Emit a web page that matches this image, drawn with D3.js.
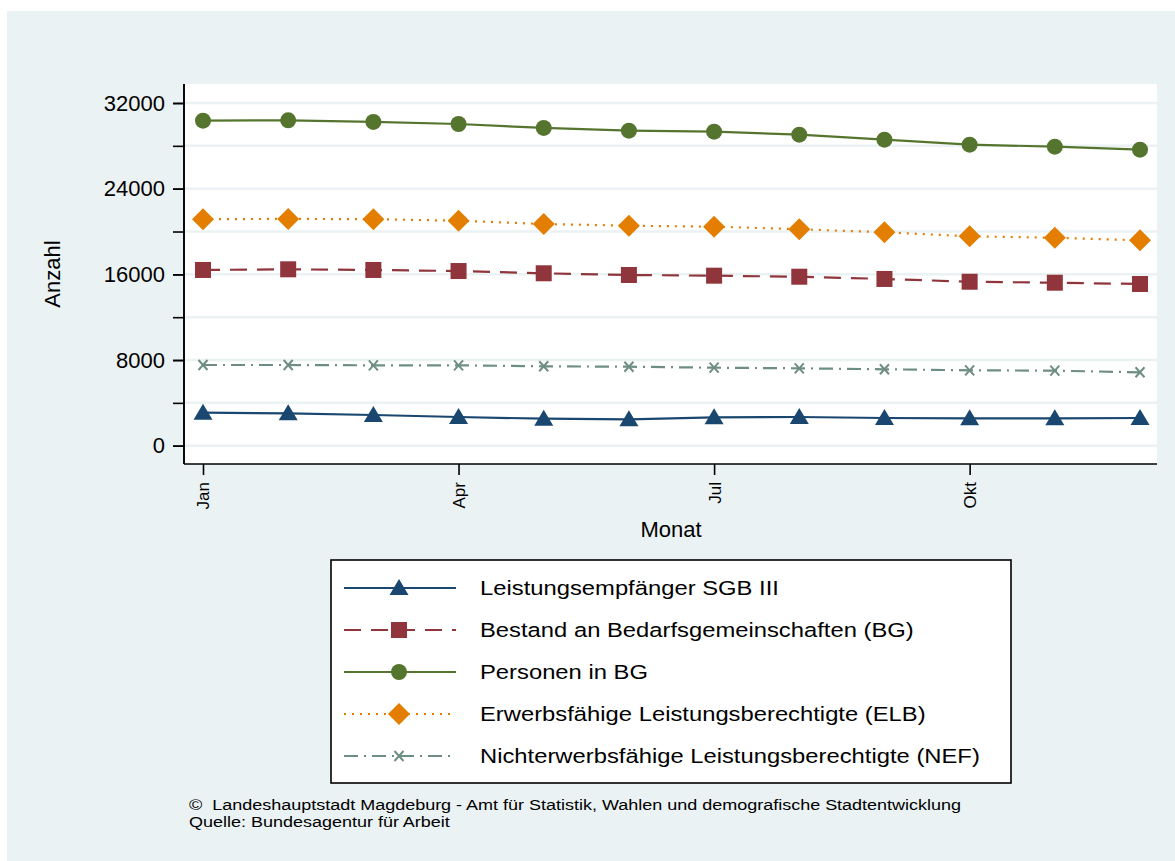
<!DOCTYPE html>
<html>
<head>
<meta charset="utf-8">
<script src="https://cdn.jsdelivr.net/npm/d3@7"></script>
<style>
body { margin: 0; background: #fff; }
text { font-family: "Liberation Sans", Arial, Helvetica, sans-serif; }
</style>
</head>
<body>
<svg id="chart" width="1175" height="861"></svg>
<script>
var months = [1, 2, 3, 4, 5, 6, 7, 8, 9, 10, 11, 12];
var tickMonths = [1, 4, 7, 10];
var tickMonthLabels = ['Jan', 'Apr', 'Jul', 'Okt'];
var yTicks = [0, 8000, 16000, 24000, 32000];
var yMinorTicks = [0, 4000, 8000, 12000, 16000, 20000, 24000, 28000, 32000];

var sgb3 = [3080, 3025, 2865, 2680, 2520, 2465, 2650, 2680, 2585, 2560, 2560, 2585];
var bg = [16410, 16470, 16410, 16310, 16100, 15940, 15875, 15780, 15570, 15310, 15220, 15100];
var personenBg = [30350, 30385, 30230, 30040, 29670, 29415, 29320, 29040, 28575, 28110, 27920, 27640];
var elb = [21150, 21180, 21150, 21010, 20700, 20540, 20450, 20210, 19930, 19550, 19420, 19180];
var nef = [7535, 7535, 7505, 7505, 7415, 7375, 7285, 7225, 7135, 7040, 7005, 6855];

var seriesNames = [
    'Leistungsempfänger SGB III',
    'Bestand an Bedarfsgemeinschaften (BG)',
    'Personen in BG',
    'Erwerbsfähige Leistungsberechtigte (ELB)',
    'Nichterwerbsfähige Leistungsberechtigte (NEF)'
];

var footerLines = [
    '©\u00a0\u00a0Landeshauptstadt Magdeburg - Amt für Statistik, Wahlen und demografische Stadtentwicklung',
    'Quelle: Bundesagentur für Arbeit'
];

var series = [
    { name: seriesNames[0], values: sgb3, color: '#1a476f', dash: null, marker: 'triangle' },
    { name: seriesNames[1], values: bg, color: '#90353b', dash: '17,10', marker: 'square' },
    { name: seriesNames[2], values: personenBg, color: '#55752f', dash: null, marker: 'circle' },
    { name: seriesNames[3], values: elb, color: '#e37e00', dash: '2,6', marker: 'diamond' },
    { name: seriesNames[4], values: nef, color: '#6e8e84', dash: '14,6,2,6', marker: 'cross' }
];

var bgColor = '#eaf2f3';
var svg = d3.select('#chart');

// graph region
svg.append('rect')
    .attr('x', 7).attr('y', 11)
    .attr('width', 1168).attr('height', 850)
    .attr('fill', bgColor);

var plotL = 184, plotR = 1157, plotT = 84, plotB = 464;

svg.append('rect')
    .attr('x', plotL).attr('y', plotT)
    .attr('width', plotR - plotL).attr('height', plotB - plotT)
    .attr('fill', '#fff');

var x = d3.scaleLinear().domain([1, 12]).range([203, 1140]);
var y = d3.scaleLinear().domain([0, 32000]).range([445.7, 103]);

// grid lines
svg.append('g')
    .selectAll('line')
    .data(yMinorTicks)
    .enter()
    .append('line')
    .attr('x1', plotL).attr('x2', plotR)
    .attr('y1', function (d) { return y(d); })
    .attr('y2', function (d) { return y(d); })
    .attr('stroke', bgColor)
    .attr('stroke-width', 2.5);

// y axis
var yAxisMinor = svg.append('g')
    .attr('transform', 'translate(' + plotL + ',0)')
    .call(d3.axisLeft(y).tickValues(yMinorTicks).tickSize(11).tickFormat(''));

var yAxis = svg.append('g')
    .attr('transform', 'translate(' + plotL + ',0)')
    .call(d3.axisLeft(y).tickValues(yTicks).tickSize(11).tickPadding(8).tickFormat(d3.format('d')));

[yAxisMinor, yAxis].forEach(function (g) {
    g.select('.domain').attr('d', 'M0,' + plotT + 'V' + plotB).attr('stroke', '#000').attr('stroke-width', 1.6);
    g.selectAll('.tick line').attr('stroke', '#000').attr('stroke-width', 1.6);
});
yAxis.selectAll('.tick text')
    .attr('font-size', 22)
    .attr('fill', '#000')
    .style('font-family', '"Liberation Sans", Arial, sans-serif');

// x axis
var xAxis = svg.append('g')
    .attr('transform', 'translate(0,' + plotB + ')')
    .call(d3.axisBottom(x).tickValues(tickMonths).tickSize(11)
        .tickFormat(function (d, i) { return tickMonthLabels[i]; }));

xAxis.select('.domain').attr('d', 'M' + plotL + ',0H' + plotR).attr('stroke', '#000').attr('stroke-width', 1.6);
xAxis.selectAll('.tick line').attr('stroke', '#000').attr('stroke-width', 1.6);
xAxis.selectAll('.tick text')
    .attr('font-size', 17)
    .attr('fill', '#000')
    .attr('transform', 'rotate(-90)')
    .attr('text-anchor', 'end')
    .attr('x', -18)
    .attr('y', 0)
    .attr('dy', '0.35em')
    .style('font-family', '"Liberation Sans", Arial, sans-serif');

// axis titles
svg.append('text')
    .attr('x', 671).attr('y', 537)
    .attr('text-anchor', 'middle')
    .attr('font-size', 22)
    .text('Monat');

svg.append('text')
    .attr('transform', 'translate(60,274) rotate(-90)')
    .attr('text-anchor', 'middle')
    .attr('font-size', 22)
    .text('Anzahl');

function drawMarker(g, type, color, cx, cy) {
    if (type === 'circle') {
        g.append('circle').attr('cx', cx).attr('cy', cy).attr('r', 8).attr('fill', color);
    } else if (type === 'square') {
        g.append('rect').attr('x', cx - 8).attr('y', cy - 8).attr('width', 16).attr('height', 16).attr('fill', color);
    } else if (type === 'diamond') {
        g.append('path').attr('d', 'M' + cx + ',' + (cy - 11) + 'L' + (cx + 11) + ',' + cy + 'L' + cx + ',' + (cy + 11) + 'L' + (cx - 11) + ',' + cy + 'Z').attr('fill', color);
    } else if (type === 'triangle') {
        g.append('path').attr('d', 'M' + cx + ',' + (cy - 9) + 'L' + (cx + 9.5) + ',' + (cy + 7) + 'L' + (cx - 9.5) + ',' + (cy + 7) + 'Z').attr('fill', color);
    } else if (type === 'cross') {
        g.append('path').attr('d', 'M' + (cx - 4.5) + ',' + (cy - 5) + 'L' + (cx + 4.5) + ',' + (cy + 5) + 'M' + (cx + 4.5) + ',' + (cy - 5) + 'L' + (cx - 4.5) + ',' + (cy + 5))
            .attr('stroke', color).attr('stroke-width', 2).attr('fill', 'none');
    }
}

// text drawn a bit wider than the font, like the stata export
function wideText(g, tx, ty, size, sx, str) {
    return g.append('text')
        .attr('transform', 'translate(' + tx + ',' + ty + ') scale(' + sx + ',1)')
        .attr('font-size', size)
        .text(str);
}

var line = d3.line()
    .x(function (d, i) { return x(months[i]); })
    .y(function (d) { return y(d); });

series.forEach(function (s) {
    var g = svg.append('g');
    g.append('path')
        .datum(s.values)
        .attr('d', line)
        .attr('fill', 'none')
        .attr('stroke', s.color)
        .attr('stroke-width', 2.2)
        .attr('stroke-dasharray', s.dash);
    s.values.forEach(function (v, i) {
        drawMarker(g, s.marker, s.color, x(months[i]), y(v));
    });
});

// legend
var legend = svg.append('g');
legend.append('rect')
    .attr('x', 331).attr('y', 560)
    .attr('width', 680).attr('height', 223)
    .attr('fill', '#fff')
    .attr('stroke', '#000')
    .attr('stroke-width', 1.6);

var legendY = d3.scalePoint().domain(seriesNames).range([588, 756]);

series.forEach(function (s) {
    var ly = legendY(s.name);
    legend.append('line')
        .attr('x1', 344).attr('x2', 456)
        .attr('y1', ly).attr('y2', ly)
        .attr('stroke', s.color)
        .attr('stroke-width', 2.2)
        .attr('stroke-dasharray', s.dash);
    drawMarker(legend, s.marker, s.color, 399, ly);
    wideText(legend, 480, ly + 7, 19.5, 1.22, s.name);
});

// footer
footerLines.forEach(function (t, i) {
    wideText(svg, 189, 810 + i * 16.5, 15, 1.2, t);
});
</script>
</body>
</html>
